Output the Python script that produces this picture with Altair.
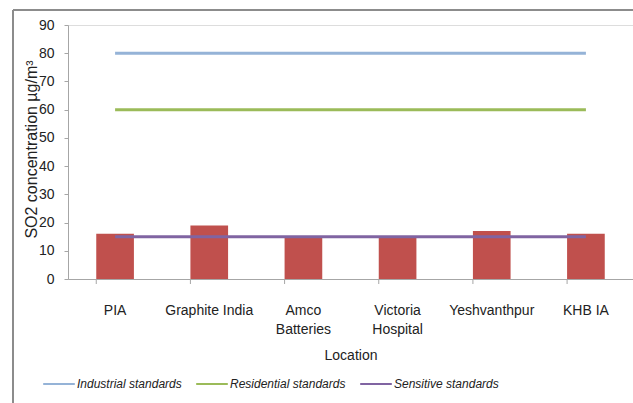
import altair as alt
import pandas as pd

locations = ["PIA", "Graphite India", "Amco Batteries", "Victoria Hospital", "Yeshvanthpur", "KHB IA"]
so2_values = [16, 19, 15, 15, 17, 16]

standard_names = ["Industrial standards", "Residential standards", "Sensitive standards"]
standard_values = [80, 60, 15]
standard_colors = ["#95B3D7", "#9BBB59", "#8064A2"]
y_ticks = [0, 10, 20, 30, 40, 50, 60, 70, 80, 90]

bars_df = pd.DataFrame({"Location": locations, "SO2": so2_values})
lines_df = pd.DataFrame(
    [{"Location": loc, "Standard": name, "Value": val}
     for name, val in zip(standard_names, standard_values)
     for loc in locations]
)

FONT = "Liberation Sans"
W, H = 565, 254

x_scale = alt.Scale(domain=locations, paddingInner=0.6, paddingOuter=0.3)
y_scale = alt.Scale(domain=[0, 90], nice=False)

x_axis = alt.Axis(
    ticks=False,
    labelAngle=0,
    labelPadding=24,
    labelFontSize=14,
    labelLineHeight=19,
    labelColor="#222222",
    labelFont=FONT,
    labelOverlap=False,
    labelExpr="indexof(['Amco Batteries','Victoria Hospital'], datum.label) >= 0 ? split(datum.label, ' ') : datum.label",
    domainColor="#A6A6A6",
    titleFont=FONT,
    titleFontSize=14,
    titleFontWeight="normal",
    titleColor="#222222",
    titleY=76,
    titleBaseline="middle",
)

y_axis = alt.Axis(
    values=y_ticks,
    tickCount=10,
    grid=False,
    tickSize=4,
    tickColor="#A6A6A6",
    domainColor="#A6A6A6",
    labelPadding=10,
    labelFontSize=14,
    labelColor="#222222",
    labelFont=FONT,
    labelOverlap=False,
    labelFlush=False,
    titleFont=FONT,
    titleFontSize=16,
    titleFontWeight="normal",
    titleColor="#222222",
    titleX=-37,
    titleY=124,
    titleBaseline="middle",
)

Y_TITLE = "SO2 concentration µg/m³"

bars = alt.Chart(bars_df).mark_bar(color="#C0504D").encode(
    x=alt.X("Location:N", scale=x_scale, sort=locations, title="Location", axis=x_axis),
    y=alt.Y("SO2:Q", scale=y_scale, title=Y_TITLE, axis=y_axis),
)

ticks = alt.Chart(bars_df).mark_rule(color="#A6A6A6", strokeWidth=1).encode(
    x=alt.X("Location:N", sort=locations, bandPosition=0, title="Location", axis=x_axis),
    y=alt.value(H),
    y2=alt.value(H + 5),
)

lines = alt.Chart(lines_df).mark_line(strokeWidth=3).encode(
    x=alt.X("Location:N", sort=locations, title="Location", axis=x_axis),
    y=alt.Y("Value:Q", scale=y_scale, title=Y_TITLE, axis=y_axis),
    color=alt.Color(
        "Standard:N",
        scale=alt.Scale(domain=standard_names, range=standard_colors),
        legend=alt.Legend(
            title=None,
            orient="none",
            direction="horizontal",
            legendX=-26,
            legendY=342,
            symbolType="stroke",
            symbolSize=1000,
            symbolStrokeWidth=2,
            labelFontSize=12,
            labelFont=FONT,
            labelFontStyle="italic",
            labelColor="#222222",
            columnPadding=10,
            labelOffset=1,
        ),
    ),
    detail="Standard:N",
)

frame_v = alt.Chart(bars_df).mark_rule(color="#8C8C8C", strokeWidth=2).encode(
    x=alt.value(13 - 68), y=alt.value(10 - 25), y2=alt.value(403)
)
frame_h = alt.Chart(bars_df).mark_rule(color="#8C8C8C", strokeWidth=2).encode(
    x=alt.value(13 - 68), x2=alt.value(W + 20), y=alt.value(10 - 25)
)

chart = alt.layer(bars, ticks, lines, frame_v, frame_h).properties(
    width=W,
    height=H,
    autosize=alt.AutoSizeParams(type="none"),
    padding={"left": 68, "top": 25, "right": 0, "bottom": 124},
).configure_view(stroke=None).configure(background="white")

chart.save("out.html", embed_options={"renderer": "svg", "actions": False})
